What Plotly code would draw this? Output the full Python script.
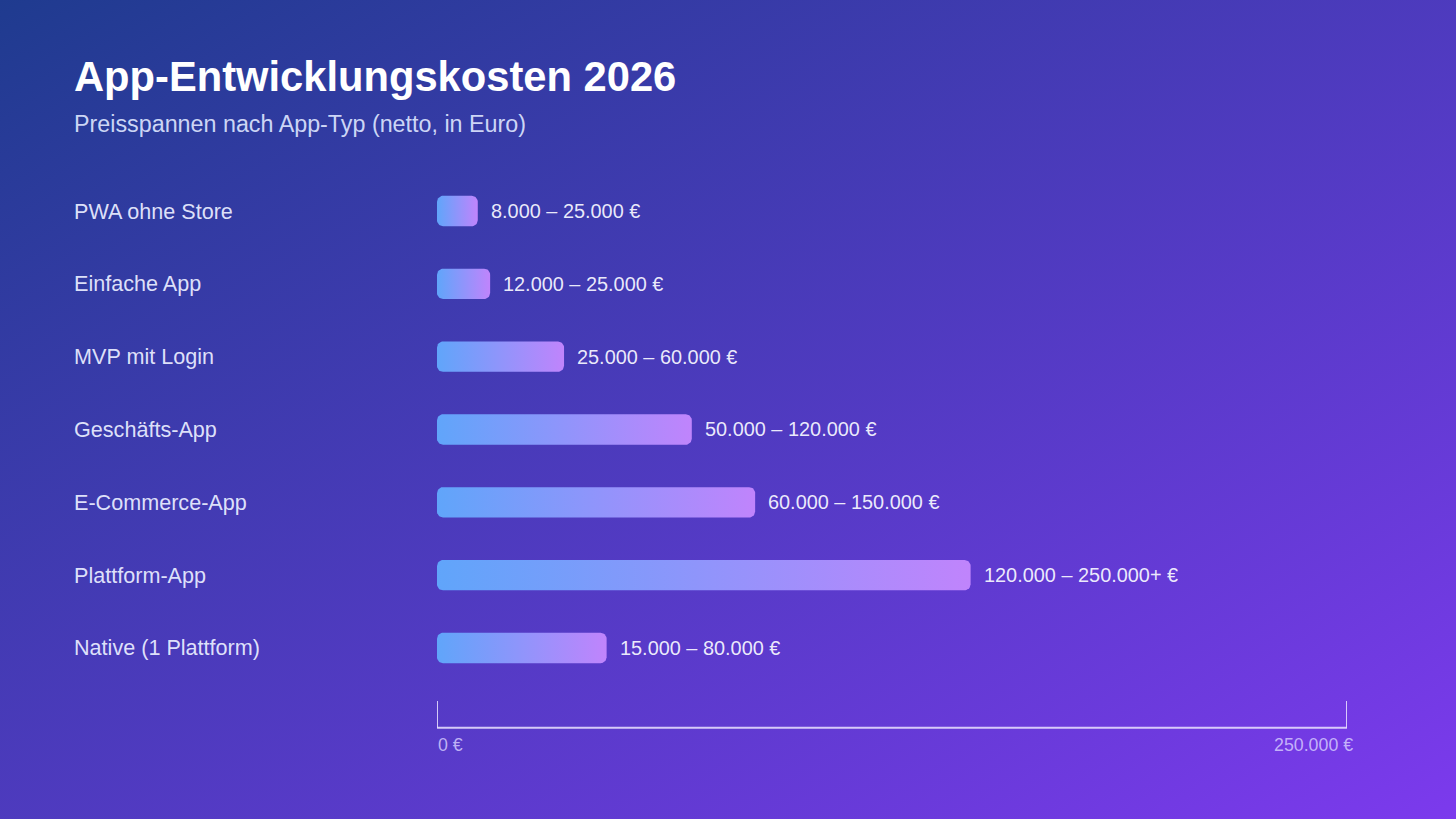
import base64
import numpy as np
import plotly.graph_objects as go

# ---------------- data ----------------
categories = [
    "PWA ohne Store",
    "Einfache App",
    "MVP mit Login",
    "Geschäfts-App",
    "E-Commerce-App",
    "Plattform-App",
    "Native (1 Plattform)",
]
bar_values = [11200, 14600, 34900, 70000, 87400, 146600, 46600]
range_labels = [
    "8.000 – 25.000 €",
    "12.000 – 25.000 €",
    "25.000 – 60.000 €",
    "50.000 – 120.000 €",
    "60.000 – 150.000 €",
    "120.000 – 250.000+ €",
    "15.000 – 80.000 €",
]
axis_tick_values = [0, 250000]
axis_tick_labels = ["0 €", "250.000 €"]
title_text = "App-Entwicklungskosten 2026"
subtitle_text = "Preisspannen nach App-Typ (netto, in Euro)"

# ---------------- layout constants (pixels) ----------------
W, H = 1456, 819
X0_PX, X1_PX = 437, 1347
ROW0_PX, ROW_PITCH = 211, 72.83
BAR_H_PX = 30.4
RADIUS_PX = 6
AXIS_Y_PX = 727.7
TICK_TOP_PX = 701
AXIS_LABEL_Y_PX = 745
LEFT_PX = 72
X_MAX = axis_tick_values[-1]
FONT = "Liberation Sans, Arial, Helvetica, sans-serif"

n = len(categories)
px_per_x = (X1_PX - X0_PX) / X_MAX
y_top_px = ROW0_PX - ROW_PITCH / 2
y_bot_px = ROW0_PX + ROW_PITCH * (n - 0.5)
ydom = [1 - y_bot_px / H, 1 - y_top_px / H]
xdom = [X0_PX / W, X1_PX / W]


def py(px):
    return 1 - px / H


def rounded_rect(x0, x1, yc, hh, rx, ry, k=12):
    rx = min(rx, (x1 - x0) / 2)
    xs, ys = [], []
    y_lo, y_hi = yc - hh, yc + hh
    corners = [
        (x1 - rx, y_lo + ry, -np.pi / 2, 0),
        (x1 - rx, y_hi - ry, 0, np.pi / 2),
        (x0 + rx, y_hi - ry, np.pi / 2, np.pi),
        (x0 + rx, y_lo + ry, np.pi, 1.5 * np.pi),
    ]
    for cx, cy, a0, a1 in corners:
        t = np.linspace(a0, a1, k)
        xs.extend(cx + rx * np.cos(t))
        ys.extend(cy + ry * np.sin(t))
    xs.append(xs[0])
    ys.append(ys[0])
    return xs, ys


fig = go.Figure()

rx = RADIUS_PX / px_per_x
ry = RADIUS_PX / ROW_PITCH
hh = BAR_H_PX / 2 / ROW_PITCH

for i, (cat, val) in enumerate(zip(categories, bar_values)):
    xs, ys = rounded_rect(0, val, i, hh, rx, ry)
    fig.add_trace(
        go.Scatter(
            x=xs,
            y=ys,
            mode="lines",
            fill="toself",
            line=dict(width=0, color="rgba(0,0,0,0)"),
            fillgradient=dict(
                type="horizontal",
                colorscale=[[0, "#60a5fa"], [1, "#c084fc"]],
            ),
            hoverinfo="skip",
            showlegend=False,
            name=cat,
        )
    )

annotations = []
# title / subtitle
annotations.append(dict(
    text=f"<b>{title_text}</b>", x=LEFT_PX / W, y=py(76), xref="paper", yref="paper",
    xanchor="left", yanchor="middle", showarrow=False,
    font=dict(family=FONT, size=41.7, color="#ffffff"),
))
annotations.append(dict(
    text=subtitle_text, x=LEFT_PX / W, y=py(124), xref="paper", yref="paper",
    xanchor="left", yanchor="middle", showarrow=False,
    font=dict(family=FONT, size=23.3, color="rgba(222,230,255,0.92)"),
))
# category labels
for i, cat in enumerate(categories):
    annotations.append(dict(
        text=cat, x=LEFT_PX / W, y=i, xref="paper", yref="y",
        xanchor="left", yanchor="middle", showarrow=False,
        font=dict(family=FONT, size=21.6, color="rgba(232,236,255,0.95)"),
    ))
# value labels
for i, (val, lab) in enumerate(zip(bar_values, range_labels)):
    annotations.append(dict(
        text=lab, x=val, y=i, xref="x", yref="y", xshift=11,
        xanchor="left", yanchor="middle", showarrow=False,
        font=dict(family=FONT, size=19.9, color="rgba(245,245,255,0.95)"),
    ))
# axis labels
for v, lab in zip(axis_tick_values, axis_tick_labels):
    left = v == axis_tick_values[0]
    annotations.append(dict(
        text=lab, x=v, y=py(AXIS_LABEL_Y_PX), xref="x", yref="paper",
        xanchor="left" if left else "right", xshift=-1 if left else 8,
        yanchor="middle", showarrow=False,
        font=dict(family=FONT, size=17.8, color="rgba(215,205,255,0.82)"),
    ))

axis_color = "rgba(235,228,255,0.85)"
shapes = [
    dict(type="line", xref="x", yref="paper",
         x0=axis_tick_values[0], x1=axis_tick_values[-1],
         y0=py(AXIS_Y_PX), y1=py(AXIS_Y_PX),
         line=dict(color=axis_color, width=2)),
]
for v in axis_tick_values:
    shapes.append(dict(type="line", xref="x", yref="paper", x0=v, x1=v,
                       y0=py(AXIS_Y_PX), y1=py(TICK_TOP_PX),
                       line=dict(color=axis_color, width=2)))

svg = (
    f'<svg xmlns="http://www.w3.org/2000/svg" width="{W}" height="{H}" '
    f'viewBox="0 0 {W} {H}" preserveAspectRatio="none">'
    '<defs><linearGradient id="g" x1="0" y1="0" x2="1" y2="1">'
    '<stop offset="0" stop-color="#1f3b8f"/>'
    '<stop offset="1" stop-color="#7c3aed"/>'
    '</linearGradient></defs>'
    '<rect x="0" y="0" width="100%" height="100%" fill="url(#g)"/></svg>'
)
bg_src = "data:image/svg+xml;base64," + base64.b64encode(svg.encode()).decode()

fig.update_layout(
    width=W, height=H, autosize=False,
    margin=dict(l=0, r=0, t=0, b=0, pad=0),
    paper_bgcolor="#4d3abb",
    plot_bgcolor="rgba(0,0,0,0)",
    xaxis=dict(domain=xdom, range=[0, X_MAX], visible=False, fixedrange=True),
    yaxis=dict(domain=ydom, range=[n - 0.5, -0.5], visible=False, fixedrange=True),
    images=[dict(source=bg_src, xref="paper", yref="paper", x=0, y=1,
                 sizex=1, sizey=1, xanchor="left", yanchor="top",
                 sizing="stretch", layer="below")],
    annotations=annotations,
    shapes=shapes,
    showlegend=False,
)

fig.write_html(
    "out.html",
    config={"displayModeBar": False, "staticPlot": True},
    post_script="document.body.style.margin='0';document.body.style.overflow='hidden';",
)
